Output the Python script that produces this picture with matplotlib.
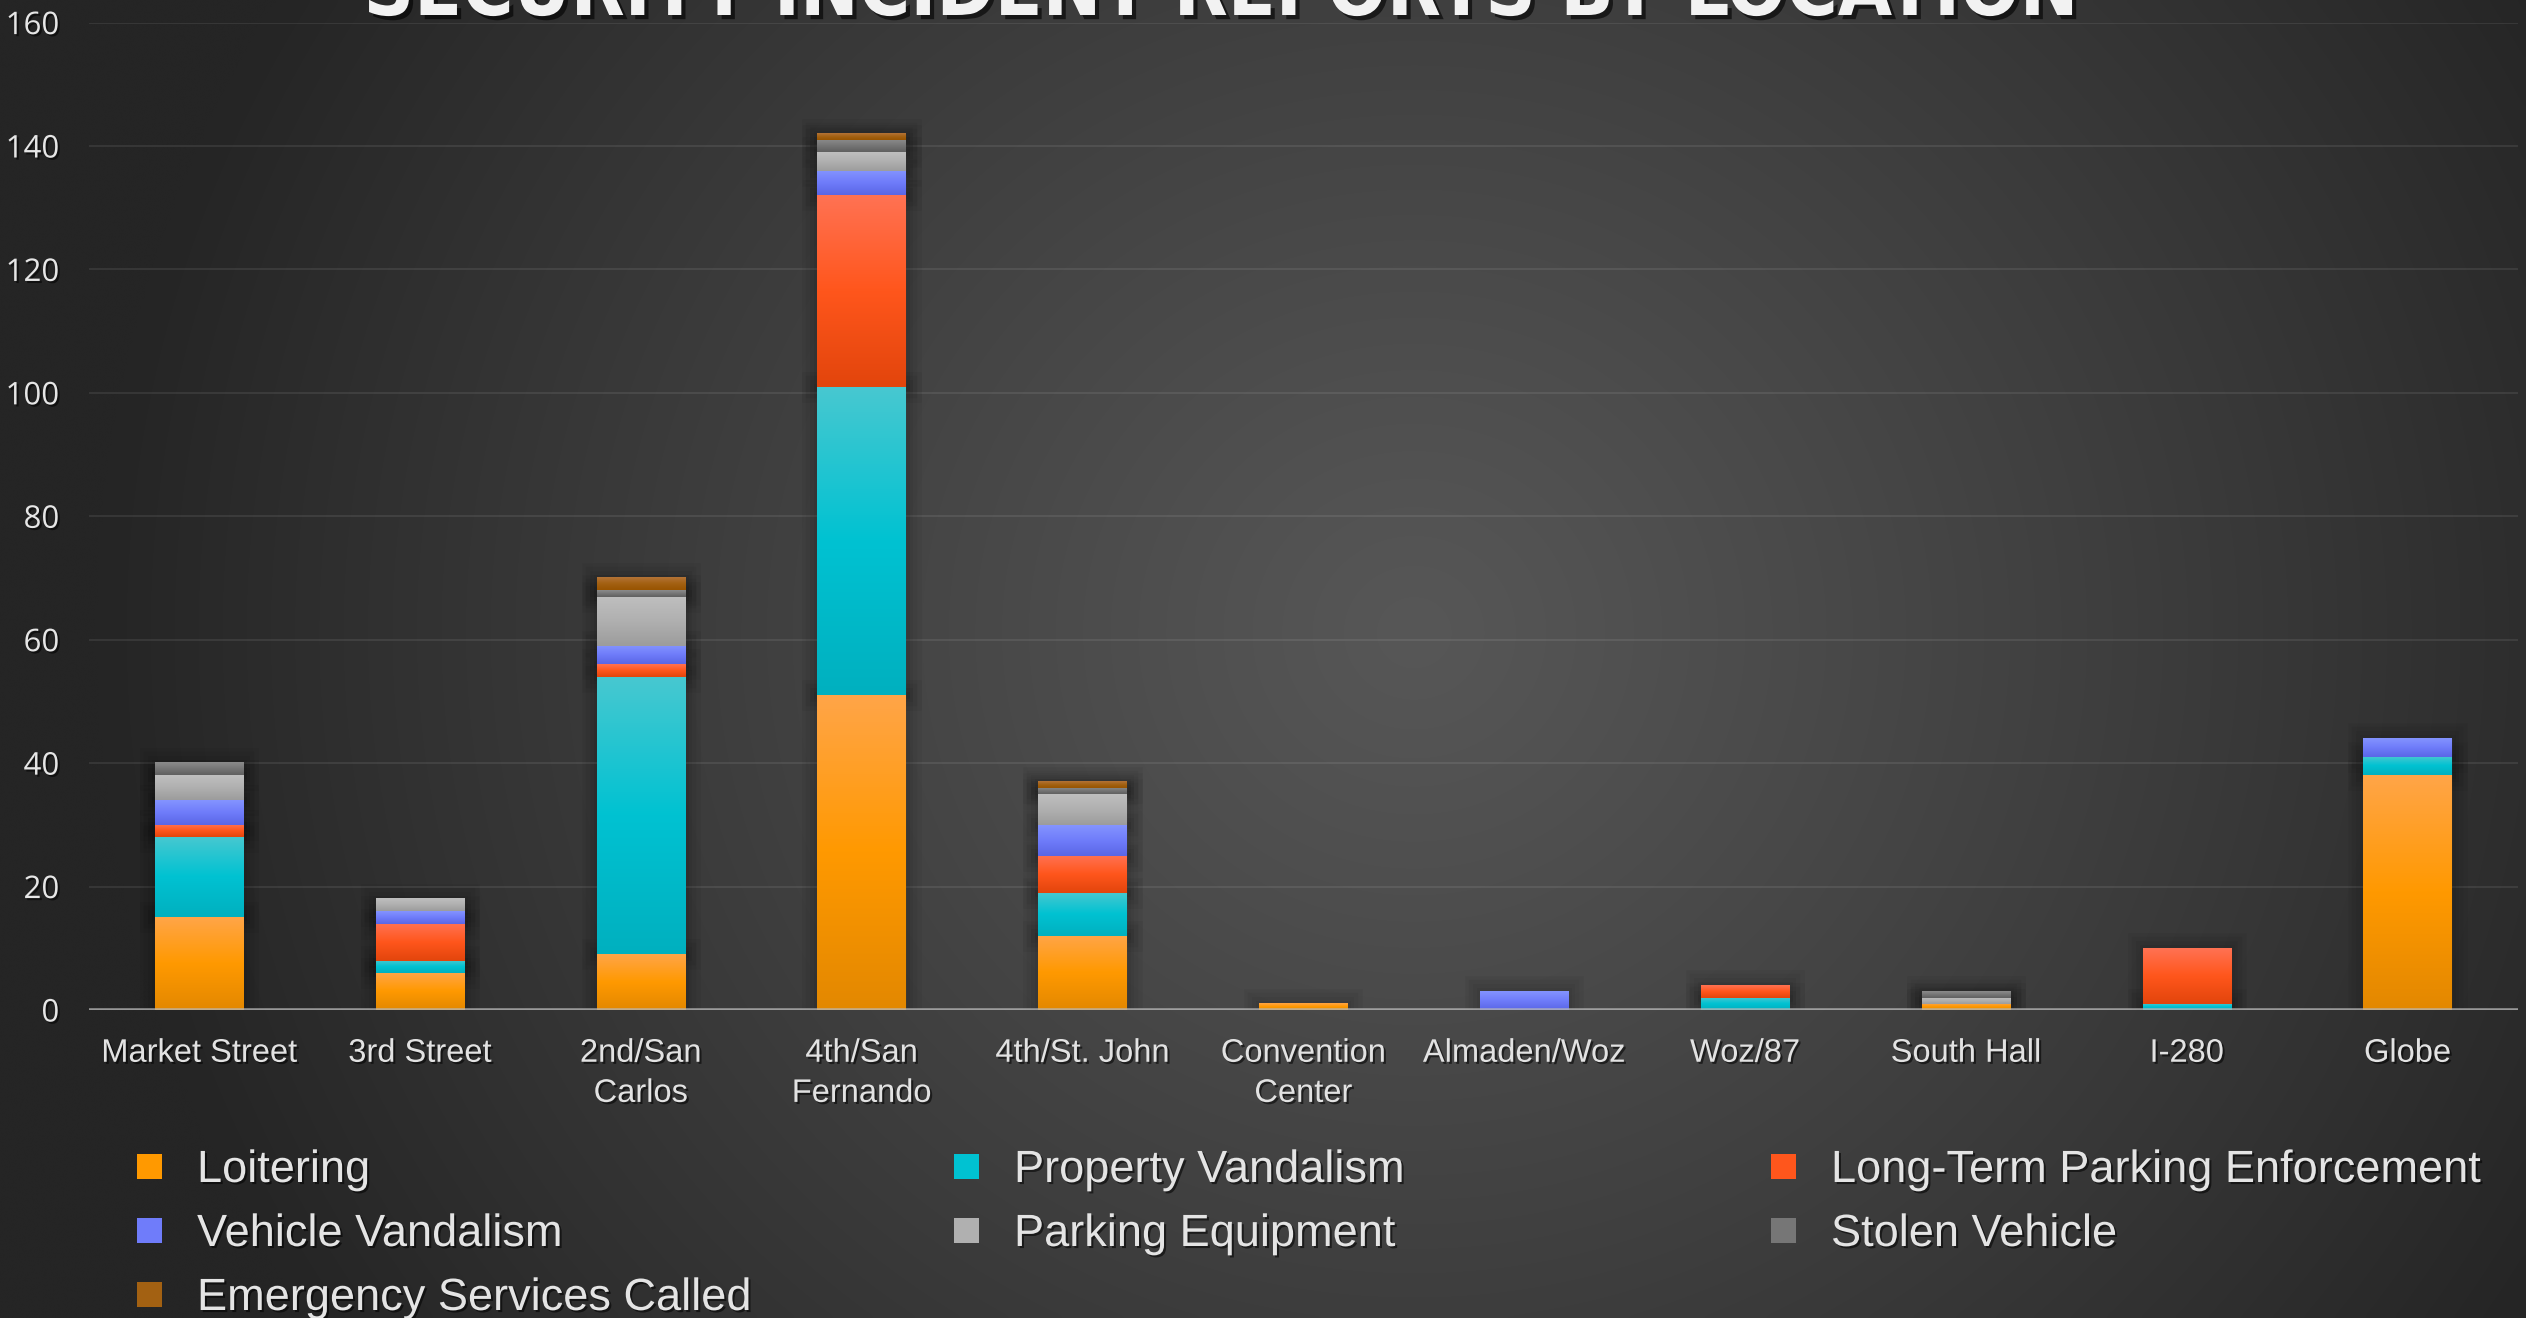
import matplotlib
matplotlib.use("Agg")
import matplotlib.pyplot as plt
import matplotlib.patheffects as pe
from matplotlib.colors import LinearSegmentedColormap
from matplotlib.patches import Rectangle
import numpy as np

TITLE = "SECURITY INCIDENT REPORTS BY LOCATION"

LOCATIONS = ["Market Street", "3rd Street", "2nd/San\nCarlos", "4th/San\nFernando",
             "4th/St. John", "Convention\nCenter", "Almaden/Woz", "Woz/87",
             "South Hall", "I-280", "Globe"]

loitering          = [15, 6,  9, 51, 12, 1, 0, 0, 1, 0, 38]
property_vandalism = [13, 2, 45, 50,  7, 0, 0, 2, 0, 1,  3]
long_term_parking  = [ 2, 6,  2, 31,  6, 0, 0, 2, 0, 9,  0]
vehicle_vandalism  = [ 4, 2,  3,  4,  5, 0, 3, 0, 0, 0,  3]
parking_equipment  = [ 4, 2,  8,  3,  5, 0, 0, 0, 1, 0,  0]
stolen_vehicle     = [ 2, 0,  1,  2,  1, 0, 0, 0, 1, 0,  0]
emergency_services = [ 0, 0,  2,  1,  1, 0, 0, 0, 0, 0,  0]

SERIES = [
    ("Loitering", loitering),
    ("Property Vandalism", property_vandalism),
    ("Long-Term Parking Enforcement", long_term_parking),
    ("Vehicle Vandalism", vehicle_vandalism),
    ("Parking Equipment", parking_equipment),
    ("Stolen Vehicle", stolen_vehicle),
    ("Emergency Services Called", emergency_services),
]

# top / middle / bottom of the vertical gradient on each bar
SHADES = {
    "Loitering":                     ("#FFA548", "#FF9900", "#E38800"),
    "Property Vandalism":            ("#48C8D0", "#00C2D2", "#00B0BF"),
    "Long-Term Parking Enforcement": ("#FF7253", "#FF561C", "#E2450C"),
    "Vehicle Vandalism":             ("#8494FF", "#6F7CFA", "#5A66E6"),
    "Parking Equipment":             ("#BFBFBF", "#B0B0B0", "#9C9C9C"),
    "Stolen Vehicle":                ("#8C8C8C", "#767676", "#5F5F5F"),
    "Emergency Services Called":     ("#B47438", "#A36112", "#985400"),
}

W, H = 2526, 1318
fig = plt.figure(figsize=(W / 100, H / 100), dpi=100)

# radial background
bg = fig.add_axes([0, 0, 1, 1], zorder=-5)
gx, gy = np.meshgrid(np.linspace(0, 1, 600), np.linspace(0, 1, 320))
r = np.sqrt(((gx - 0.56) / 0.52) ** 2 + ((gy - 0.52) / 0.95) ** 2)
lum = 0x57 - (0x57 - 0x25) * np.clip(r, 0, 1) ** 1.1
bg.imshow(np.dstack([lum / 255] * 3), extent=(0, 1, 0, 1), aspect="auto",
          interpolation="bicubic", origin="lower")
bg.axis("off")

ax = fig.add_axes([88.6 / W, 1 - 1010 / H, (2518 - 88.6) / W, (1010 - 22.6) / H])
ax.set_facecolor("none")

shadow_text = [pe.SimplePatchShadow(offset=(1.5, -1.5), shadow_rgbFace="black", alpha=0.55),
               pe.Normal()]
glow = [pe.Stroke(linewidth=w, foreground="black", alpha=0.045) for w in (22, 16, 10, 5)] + [pe.Normal()]

x = np.arange(len(LOCATIONS))
bw = 0.4
bottom = np.zeros(len(LOCATIONS))
grad = np.linspace(0, 1, 256).reshape(-1, 1)

for name, vals in SERIES:
    vals = np.array(vals, dtype=float)
    top_c, mid_c, bot_c = SHADES[name]
    bars = ax.bar(x, vals, bw, bottom=bottom, color=mid_c, linewidth=0, zorder=2)
    cmap = LinearSegmentedColormap.from_list(name, [top_c, mid_c, bot_c])
    for rect in bars:
        if rect.get_height() <= 0:
            rect.set_visible(False)
            continue
        rect.set_path_effects(glow)
        x0, y0 = rect.get_x(), rect.get_y()
        ax.imshow(grad, cmap=cmap, extent=(x0, x0 + rect.get_width(), y0, y0 + rect.get_height()),
                  aspect="auto", origin="upper", interpolation="bicubic", zorder=3)
    bottom += vals

ax.set_xlim(-0.5, len(LOCATIONS) - 0.5)
ax.set_ylim(0, 160)
ax.set_yticks(np.arange(0, 161, 20))
ax.set_xticks(x)
ax.set_xticklabels(LOCATIONS, fontsize=23.5, family="Liberation Sans", color="#E2E2E2",
                   linespacing=1.38)
for lbl in ax.get_yticklabels():
    lbl.set_fontsize(22.5)
    lbl.set_family("Open Sans")
    lbl.set_color("#E6E6E6")
for lbl in ax.get_xticklabels() + ax.get_yticklabels():
    lbl.set_path_effects(shadow_text)
ax.tick_params(axis="both", length=0)
ax.tick_params(axis="y", pad=21)
ax.tick_params(axis="x", pad=20)
for s in ax.spines.values():
    s.set_visible(False)
ax.set_axisbelow(True)
ax.yaxis.grid(True, color="white", alpha=0.09, linewidth=1.3)
ax.axhline(0, color="#B8B8B8", linewidth=2.6, alpha=0.75, zorder=4)

# legend, three equal columns
for i, (name, _) in enumerate(SERIES):
    row, col = divmod(i, 3)
    mx = 137 + col * 817
    base = 1182 + row * 64
    fig.patches.append(Rectangle((mx / W, 1 - (base - 3) / H), 25 / W, 25 / H,
                                 transform=fig.transFigure, figure=fig,
                                 color=SHADES[name][1], linewidth=0))
    fig.text((mx + 60) / W, 1 - base / H, name, fontsize=32.5, family="Liberation Sans",
             color="#E4E4E4", va="baseline", ha="left", path_effects=shadow_text)

# title sits mostly above the canvas, only its lower part shows
t = fig.text(1220 / W, 1 - 15 / H, TITLE, ha="center", va="baseline", fontsize=60,
             weight="bold", stretch="condensed",
             family=["Liberation Sans Narrow", "DejaVu Sans"], color="#F2F2F2",
             path_effects=[pe.SimplePatchShadow(offset=(3, -3), shadow_rgbFace="black", alpha=0.6),
                           pe.Normal()])
renderer = fig.canvas.get_renderer()
tw = t.get_window_extent(renderer).width
t.set_fontsize(60 * 1716 / tw)

fig.savefig("out.png", dpi=100)
plt.close(fig)
